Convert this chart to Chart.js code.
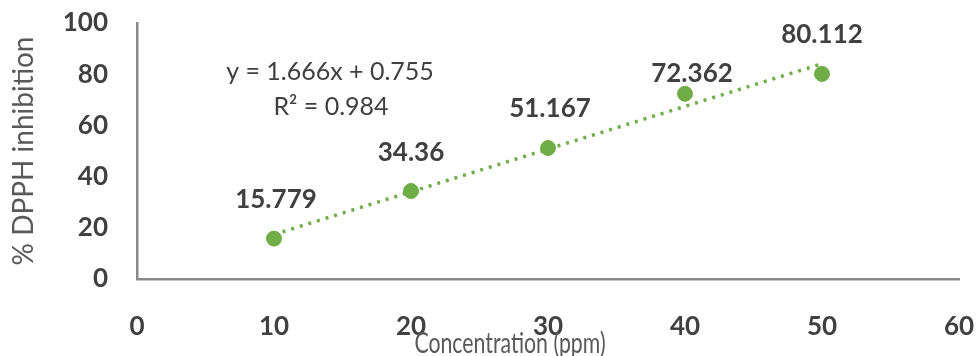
<!DOCTYPE html>
<html>
<head>
<meta charset="utf-8">
<script src="https://cdn.jsdelivr.net/npm/chart.js@4.4.1/dist/chart.umd.min.js"></script>
<style>
  html, body { margin: 0; padding: 0; background: #fff; }
  #wrap { width: 977px; height: 356px; position: relative; }
</style>
</head>
<body>
<div id="wrap"><canvas id="c"></canvas></div>
<script>
// data
const concentration = [10, 20, 30, 40, 50];
const inhibition = [15.779, 34.36, 51.167, 72.362, 80.112];
const trendX = [10, 50];
const trendY = [17.4, 84.1];
const equationLines = ['y = 1.666x + 0.755', 'R\u00B2 = 0.984'];
const xTitle = 'Concentration (ppm)';
const yTitle = '% DPPH inhibition';

const green = '#70ad47';
const font = 'Lato, "Open Sans", "DejaVu Sans", sans-serif';

// label nudges (px) - Excel moved the 4th label down a bit
const labelDx = [2, 0, 2, 7, 0];
const labelDy = [-39, -38, -39, -20, -39];

const labelsPlugin = {
  id: 'labels',
  afterDatasetsDraw(chart) {
    const ctx = chart.ctx;
    const meta = chart.getDatasetMeta(1);
    ctx.save();
    ctx.font = 'bold 26px ' + font;
    ctx.fillStyle = '#404040';
    ctx.textAlign = 'center';
    ctx.textBaseline = 'middle';
    meta.data.forEach((pt, i) => {
      ctx.fillText(String(inhibition[i]), pt.x + labelDx[i], pt.y + labelDy[i]);
    });
    // trendline equation
    ctx.font = '25px ' + font;
    ctx.fillText(equationLines[0], 330, 72);
    ctx.fillText(equationLines[1], 331, 107);
    // x axis title (narrow, sits over the tick labels like in the original)
    ctx.fillStyle = '#595959';
    ctx.font = '28px ' + font;
    ctx.textBaseline = 'alphabetic';
    ctx.translate(510, 353);
    ctx.scale(0.76, 1);
    ctx.fillText(xTitle, 0, 0);
    ctx.restore();
  }
};

new Chart(document.getElementById('c').getContext('2d'), {
  type: 'scatter',
  data: {
    datasets: [
      {
        label: 'trend',
        data: trendX.map((x, i) => ({ x: x, y: trendY[i] })),
        showLine: true,
        borderColor: green,
        borderWidth: 3.5,
        borderDash: [3, 6],
        pointRadius: 0,
        fill: false,
        order: 2
      },
      {
        label: 'inhibition',
        data: concentration.map((x, i) => ({ x: x, y: inhibition[i] })),
        backgroundColor: green,
        borderColor: green,
        pointRadius: 7.5,
        pointHoverRadius: 7.5,
        order: 1
      }
    ]
  },
  options: {
    responsive: true,
    maintainAspectRatio: false,
    animation: false,
    layout: { padding: { top: 23, right: 18, bottom: 0, left: 0 } },
    plugins: { legend: { display: false }, tooltip: { enabled: false } },
    scales: {
      x: {
        type: 'linear',
        min: 0, max: 60,
        ticks: { stepSize: 10, padding: 32, color: '#404040', font: { family: font, size: 26, weight: 'bold' } },
        grid: { display: false, drawTicks: false },
        border: { display: true, color: '#8a8a8a', width: 2.5 },
        afterFit(s) { s.height = 77; s.paddingLeft = 0; s.paddingRight = 0; }
      },
      y: {
        min: 0, max: 100,
        ticks: { stepSize: 20, padding: 29, color: '#404040', font: { family: font, size: 26, weight: 'bold' } },
        grid: { display: false, drawTicks: false },
        border: { display: true, color: '#8a8a8a', width: 2.5 },
        title: { display: true, text: yTitle, color: '#595959', padding: { top: 7, bottom: 0 }, font: { family: font, size: 28 } },
        afterFit(s) { s.width = 137; s.paddingTop = 0; s.paddingBottom = 0; }
      }
    }
  },
  plugins: [labelsPlugin]
});
</script>
</body>
</html>
